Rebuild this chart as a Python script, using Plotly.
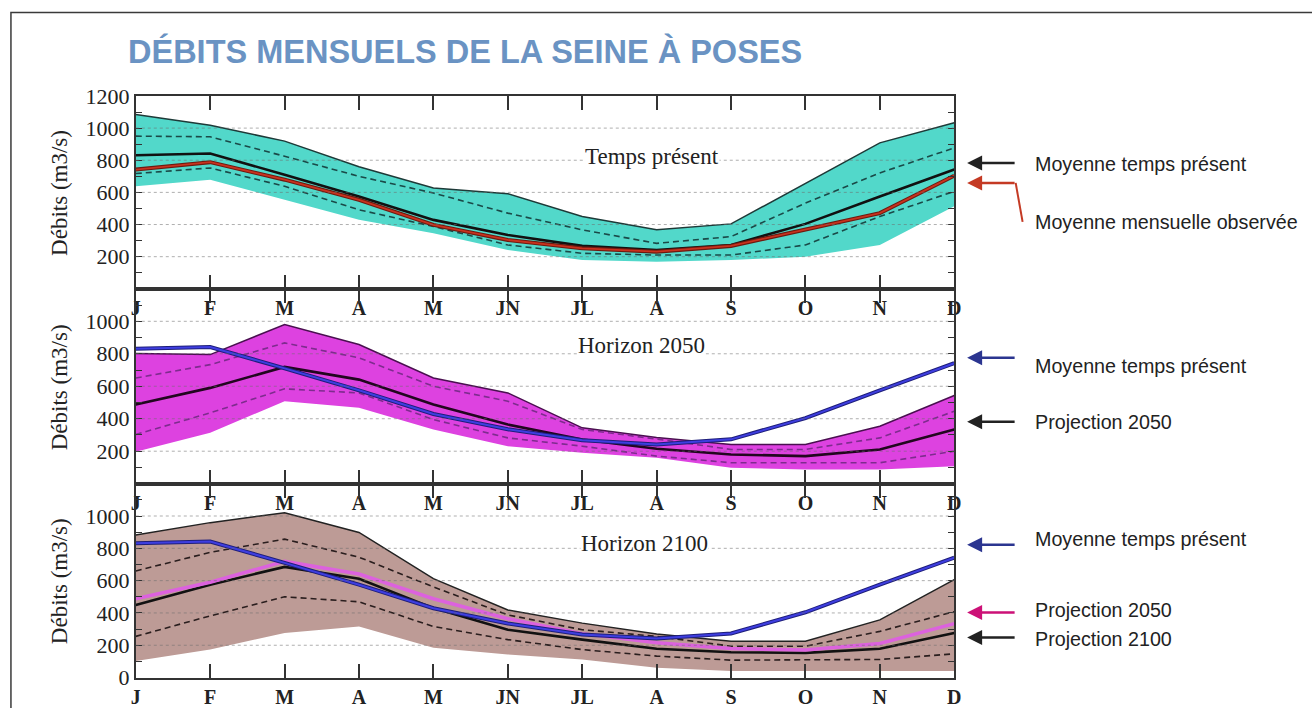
import plotly.graph_objects as go

FW, FH = 1312, 722
OY, SY = 12, 0.966  # observed vertical offset / scale of the page capture

months = ["J", "F", "M", "A", "M", "JN", "JL", "A", "S", "O", "N", "D"]
xi = list(range(12))

# Panel 1 : temps présent
present_upper = [1085, 1017, 919, 760, 627, 592, 450, 367, 404, 655, 908, 1033]
present_q90 = [950, 946, 825, 700, 596, 471, 367, 283, 325, 533, 721, 877]
present_mean = [831, 842, 710, 575, 429, 335, 267, 242, 273, 404, 575, 742]
observed_mean = [742, 788, 679, 554, 398, 304, 252, 231, 267, 367, 471, 704]
present_q10 = [717, 752, 638, 492, 388, 273, 221, 210, 210, 273, 450, 606]
present_lower = [638, 679, 554, 429, 346, 242, 179, 169, 179, 200, 273, 513]

# Panel 2 : horizon 2050
h2050_upper = [801, 795, 980, 857, 651, 559, 344, 285, 241, 241, 354, 543]
h2050_q90 = [651, 733, 867, 775, 600, 508, 334, 275, 211, 211, 282, 446]
h2050_mean = [488, 590, 719, 641, 488, 364, 272, 215, 180, 170, 211, 334]
h2050_q10 = [303, 436, 584, 559, 395, 282, 231, 170, 129, 129, 129, 200]
h2050_lower = [196, 313, 508, 467, 334, 231, 190, 160, 98, 88, 88, 108]

# Panel 3 : horizon 2100
h2100_upper = [882, 959, 1020, 898, 612, 418, 337, 270, 225, 225, 357, 606]
h2100_q90 = [660, 775, 857, 745, 561, 388, 296, 255, 194, 194, 286, 408]
h2100_mean = [449, 575, 685, 612, 430, 296, 235, 178, 157, 153, 178, 276]
h2100_q10 = [255, 382, 500, 469, 316, 235, 173, 133, 108, 108, 112, 147]
h2100_lower = [102, 173, 276, 316, 184, 143, 112, 61, 41, 41, 41, 41]

grid_vals = [200, 400, 600, 800, 1000]
yticks_p1 = [200, 400, 600, 800, 1000, 1200]
yticks_p2 = [200, 400, 600, 800, 1000]
yticks_p3 = [0, 200, 400, 600, 800, 1000]

SERIF = "Liberation Serif"
SANS = "Liberation Sans"


def px(x):
    return x / FW


def py(y):
    return 1 - ((y - OY) / SY) / FH


fig = go.Figure()


def band(lower, upper, fill, edge, ax):
    fig.add_trace(go.Scatter(x=xi, y=lower, mode="lines", line=dict(width=0, color=fill),
                             xaxis="x" + ax, yaxis="y" + ax, hoverinfo="skip"))
    fig.add_trace(go.Scatter(x=xi, y=upper, mode="lines", fill="tonexty", fillcolor=fill,
                             line=dict(width=1.5, color=edge), xaxis="x" + ax, yaxis="y" + ax))


def line(y, color, width, ax, dash=None):
    fig.add_trace(go.Scatter(x=xi, y=y, mode="lines",
                             line=dict(width=width, color=color, dash=dash),
                             xaxis="x" + ax, yaxis="y" + ax))


# Panel 1
band(present_lower, present_upper, "#52D8CA", "#1E3A38", "")
line(present_q90, "#1A4A48", 1.6, "", "6px,4px")
line(present_q10, "#1A4A48", 1.6, "", "6px,4px")
line(present_mean, "#111111", 2.6, "")
line(observed_mean, "#6E1A10", 4, "")
line(observed_mean, "#C8321E", 1.8, "")

# Panel 2
band(h2050_lower, h2050_upper, "#DD42E0", "#4A1050", "2")
line(h2050_q90, "#7E2C8E", 1.6, "2", "6px,4px")
line(h2050_q10, "#7E2C8E", 1.6, "2", "6px,4px")
line(h2050_mean, "#22061F", 2.6, "2")
line(present_mean, "#1E1E7A", 4, "2")
line(present_mean, "#3E3EE0", 2, "2")

# Panel 3
band(h2100_lower, h2100_upper, "#BD9B96", "#222222", "3")
line(h2100_q90, "#2A1E1E", 1.6, "3", "6px,4px")
line(h2100_q10, "#2A1E1E", 1.6, "3", "6px,4px")
line(h2100_mean, "#111111", 2.6, "3")
line(h2050_mean, "#DC62DE", 3.5, "3")
line(present_mean, "#1E1E7A", 4, "3")
line(present_mean, "#3E3EE0", 2, "3")

x_dom = [px(132), px(958)]
y_doms = [[py(289), py(96)], [py(484), py(289)], [py(678), py(484)]]
ytick_sets = [yticks_p1, yticks_p2, yticks_p3]

layout = dict(
    width=FW, height=FH, margin=dict(l=0, r=0, t=0, b=0),
    paper_bgcolor="white", plot_bgcolor="white", showlegend=False,
)
for i in range(3):
    sfx = "" if i == 0 else str(i + 1)
    layout["xaxis" + sfx] = dict(
        domain=x_dom, range=[0, 11], anchor="y" + sfx,
        tickvals=xi, ticktext=months, ticks="inside", ticklen=14, tickwidth=1.5,
        tickcolor="#333", showline=True, linecolor="#333", linewidth=2,
        mirror="ticks", showgrid=False, zeroline=False,
        tickfont=dict(family=SERIF, size=20, color="#222", weight="bold"),
    )
    layout["yaxis" + sfx] = dict(
        domain=y_doms[i], range=[0, 1200], anchor="x" + sfx,
        tickvals=ytick_sets[i], ticks="inside", ticklen=6, tickwidth=1.2,
        tickcolor="#333", showline=True, linecolor="#333", linewidth=2,
        mirror="ticks", showgrid=False, zeroline=False,
        minor=dict(dtick=100, ticks="inside", ticklen=6, tickcolor="#333", tickwidth=1.2),
        tickfont=dict(family=SERIF, size=22, color="#222"),
    )
fig.update_layout(**layout)

shapes = []
for i in range(3):
    sfx = "" if i == 0 else str(i + 1)
    for v in grid_vals:
        shapes.append(dict(type="line", xref="x" + sfx + " domain", x0=0, x1=1,
                           yref="y" + sfx, y0=v, y1=v, layer="above",
                           line=dict(color="rgba(110,110,110,0.55)", width=1, dash="dot")))
# outer frame
shapes.append(dict(type="rect", xref="paper", yref="paper", x0=px(6), x1=1.02,
                   y0=-0.05, y1=py(12.5), line=dict(color="#3a3a3a", width=1.5), layer="below"))
# red bracket
shapes.append(dict(type="path", xref="paper", yref="paper",
                   path=f"M {px(1020)} {py(183)} L {px(1027)} {py(222)}",
                   line=dict(color="#C43A24", width=2)))
fig.update_layout(shapes=shapes)

ann = []
ann.append(dict(text="DÉBITS MENSUELS DE LA SEINE À POSES", x=px(122), y=py(52),
                xref="paper", yref="paper", xanchor="left", yanchor="middle", showarrow=False,
                font=dict(family=SANS, size=32.5, color="#6A93C3", weight="bold")))
for yc in [192.5, 387, 581]:
    ann.append(dict(text="Débits (m3/s)", x=px(55), y=py(yc), xref="paper", yref="paper",
                    textangle=-90, showarrow=False, xanchor="center", yanchor="middle",
                    font=dict(family=SERIF, size=23, color="#222")))
for txt, xc, yc in [("Temps présent", 653, 157), ("Horizon 2050", 642, 346), ("Horizon 2100", 645, 544)]:
    ann.append(dict(text=txt, x=px(xc), y=py(yc), xref="paper", yref="paper", showarrow=False,
                    xanchor="center", yanchor="middle", bgcolor="white", borderpad=0,
                    font=dict(family=SERIF, size=23, color="#222")))

arrows = [(163, "#222222"), (183, "#C43A24"), (358, "#2B3590"), (422, "#222222"),
          (545, "#2B3590"), (613, "#CC1177"), (638, "#222222")]
for yv, col in arrows:
    ann.append(dict(text="", x=px(971), y=py(yv), xref="paper", yref="paper",
                    ax=49, ay=0, showarrow=True, arrowhead=2, arrowsize=1.2,
                    arrowwidth=2.5, arrowcolor=col))

labels = [("Moyenne temps présent", 164), ("Moyenne mensuelle observée", 222),
          ("Moyenne temps présent", 366), ("Projection 2050", 422),
          ("Moyenne temps présent", 539), ("Projection 2050", 610), ("Projection 2100", 639)]
for txt, yv in labels:
    ann.append(dict(text=txt, x=px(1037), y=py(yv), xref="paper", yref="paper",
                    xanchor="left", yanchor="middle", showarrow=False,
                    font=dict(family=SANS, size=19.7, color="#222")))
fig.update_layout(annotations=ann)

fig.write_html(
    "out.html",
    config={"displayModeBar": False},
    post_script="document.body.style.margin='0';document.body.style.padding='0';"
                "document.documentElement.style.overflow='hidden';",
)
